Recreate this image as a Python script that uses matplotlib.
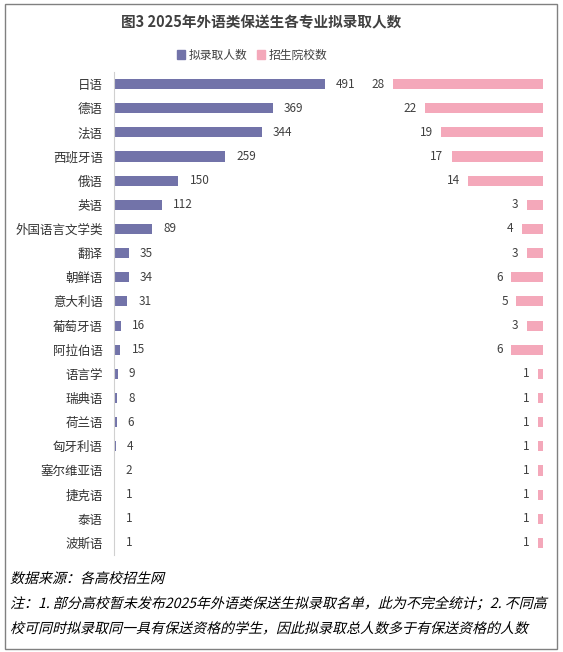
import matplotlib.pyplot as plt
from matplotlib.patches import Patch, Rectangle, PathPatch
from matplotlib.textpath import TextPath
from matplotlib.font_manager import FontProperties
from matplotlib.transforms import Affine2D, IdentityTransform

plt.rcParams['font.family'] = ['Noto Sans CJK SC', 'DejaVu Sans']

majors = ['日语', '德语', '法语', '西班牙语', '俄语', '英语', '外国语言文学类', '翻译',
          '朝鲜语', '意大利语', '葡萄牙语', '阿拉伯语', '语言学', '瑞典语', '荷兰语',
          '匈牙利语', '塞尔维亚语', '捷克语', '泰语', '波斯语']
admitted = [491, 369, 344, 259, 150, 112, 89, 35, 34, 31, 16, 15, 9, 8, 6, 4, 2, 1, 1, 1]
schools = [28, 22, 19, 17, 14, 3, 4, 3, 6, 5, 3, 6, 1, 1, 1, 1, 1, 1, 1, 1]

blue = '#7273A9'
pink = '#F4A8BA'
W, H = 563, 652

fig = plt.figure(figsize=(W / 100, H / 100), dpi=100)

def box(x0, y0, x1, y1):
    return [x0 / W, 1 - y1 / H, (x1 - x0) / W, (y1 - y0) / H]

ax = fig.add_axes(box(114, 72, 380, 555))
ax2 = fig.add_axes(box(380, 72, 543, 555), sharey=ax)

y = list(range(len(majors)))
ax.barh(y, admitted, height=0.42, color=blue)
ax.set_xlim(0, 619)
ax.set_ylim(len(majors) - 0.5, -0.5)
ax.set_yticks(y)
ax.set_yticklabels(majors, fontsize=9, color='#333333')
ax.tick_params(axis='y', length=0, pad=8)
ax.set_xticks([])
for s in ['top', 'right', 'bottom']:
    ax.spines[s].set_visible(False)
ax.spines['left'].set_color('#D0D0D0')
for yi, v in zip(y, admitted):
    ax.annotate(str(v), (v, yi), xytext=(8, 0), textcoords='offset points',
                va='center', ha='left', fontsize=8.5, color='#404040')

ax2.barh(y, schools, height=0.42, color=pink)
ax2.set_xlim(30.4, 0)
ax2.axis('off')
for yi, v in zip(y, schools):
    ax2.annotate(str(v), (v, yi), xytext=(-6, 0), textcoords='offset points',
                 va='center', ha='right', fontsize=8.5, color='#404040')

fig.text(261 / W, 1 - 22 / H, '图3 2025年外语类保送生各专业拟录取人数', ha='center', va='center',
         fontsize=10.5, fontweight='bold', color='#404040')
fig.legend(handles=[Patch(color=blue, label='拟录取人数'), Patch(color=pink, label='招生院校数')],
           loc='center', bbox_to_anchor=(252 / W, 1 - 55 / H), ncol=2, frameon=False,
           fontsize=8.5, handlelength=0.7, handleheight=0.7, handletextpad=0.3,
           columnspacing=0.8, labelcolor='#404040')

# footer notes, slanted like the original italic
notes = ['数据来源：各高校招生网',
         '注：1. 部分高校暂未发布2025年外语类保送生拟录取名单，此为不完全统计；2. 不同高',
         '校可同时拟录取同一具有保送资格的学生，因此拟录取总人数多于有保送资格的人数']
fp = FontProperties(family='Noto Sans CJK SC')
for i, t in enumerate(notes):
    tp = TextPath((0, 0), t, size=14.0, prop=fp)
    tr = Affine2D().skew_deg(14, 0).translate(10, H - (583 + i * 25))
    fig.add_artist(PathPatch(tr.transform_path(tp), transform=IdentityTransform(),
                             facecolor='black', edgecolor='none'))

fig.add_artist(Rectangle((5 / W, 3 / H), 552 / W, 645 / H, transform=fig.transFigure,
                         fill=False, edgecolor='#808080', linewidth=1))

fig.savefig('out.png', dpi=100)
